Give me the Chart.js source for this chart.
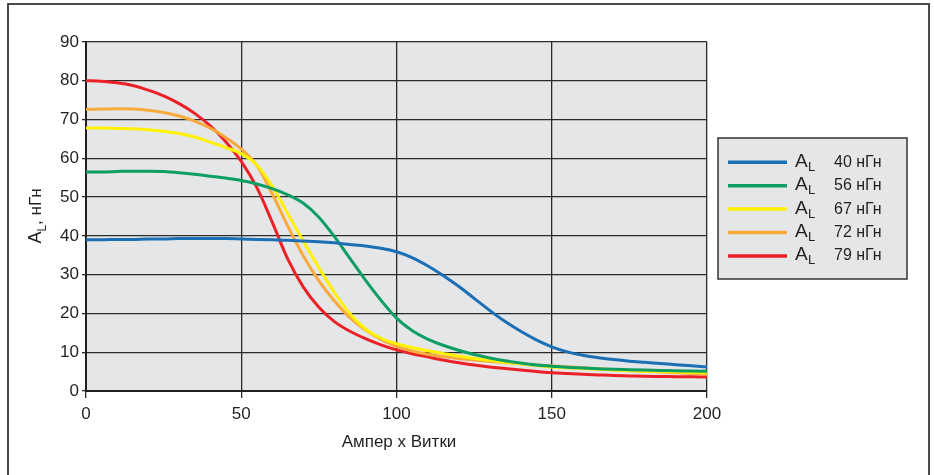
<!DOCTYPE html>
<html>
<head>
<meta charset="utf-8">
<script src="https://cdn.jsdelivr.net/npm/chart.js@4.4.1/dist/chart.umd.min.js"></script>
<style>
  html, body { margin: 0; padding: 0; background: #fff; }
  #wrap { width: 934px; height: 475px; }
</style>
</head>
<body>
<div id="wrap"><canvas id="chart" width="934" height="475"></canvas></div>
<script>
// === DATA ===
const amps = [0, 5, 10, 15, 20, 25, 30, 35, 40, 45, 50, 55, 60, 65, 70, 75, 80, 85, 90, 95, 100,
              105, 110, 115, 120, 125, 130, 135, 140, 145, 150, 155, 160, 165, 170, 175, 180, 185, 190, 195, 200];

const al40 = [39.0, 39.0, 39.1, 39.1, 39.2, 39.2, 39.3, 39.3, 39.3, 39.3, 39.2, 39.1, 39.0, 38.9, 38.7, 38.5, 38.2, 37.8, 37.4, 36.8, 35.9,
              34.4, 32.3, 29.8, 27.0, 23.9, 20.8, 17.9, 15.4, 13.2, 11.4, 10.1, 9.2, 8.6, 8.1, 7.7, 7.4, 7.1, 6.8, 6.5, 6.2];
const al56 = [56.5, 56.5, 56.6, 56.7, 56.7, 56.6, 56.3, 55.9, 55.4, 54.9, 54.3, 53.4, 52.2, 50.6, 48.4, 44.8, 39.8, 34.2, 28.6, 23.4, 18.8,
              15.6, 13.4, 11.8, 10.5, 9.4, 8.5, 7.8, 7.2, 6.7, 6.4, 6.1, 5.9, 5.75, 5.6, 5.5, 5.4, 5.3, 5.2, 5.15, 5.1];
const al67 = [67.8, 67.8, 67.7, 67.6, 67.4, 67.0, 66.4, 65.5, 64.2, 62.8, 61.2, 58.3, 52.8, 45.7, 38.6, 31.8, 25.4, 19.9, 16.0, 13.6, 12.2,
              11.2, 10.4, 9.7, 9.0, 8.4, 7.9, 7.4, 7.0, 6.6, 6.2, 6.0, 5.8, 5.6, 5.4, 5.25, 5.1, 5.0, 4.9, 4.8, 4.7];
const al72 = [72.6, 72.7, 72.8, 72.7, 72.4, 71.8, 70.9, 69.6, 67.8, 65.4, 62.4, 58.2, 50.8, 42.5, 34.8, 28.4, 23.2, 18.9, 15.7, 13.3, 11.5,
              10.3, 9.5, 8.9, 8.4, 8.0, 7.6, 7.3, 7.0, 6.7, 6.5, 6.25, 6.0, 5.75, 5.5, 5.3, 5.1, 4.9, 4.7, 4.5, 4.3];
const al79 = [80.0, 79.9, 79.5, 78.8, 77.6, 76.1, 74.1, 71.6, 68.4, 64.3, 59.2, 52.5, 43.5, 34.0, 26.8, 21.6, 17.9, 15.4, 13.5, 11.9, 10.6,
              9.6, 8.8, 8.0, 7.3, 6.7, 6.2, 5.8, 5.4, 5.0, 4.7, 4.5, 4.3, 4.15, 4.0, 3.9, 3.8, 3.75, 3.7, 3.65, 3.6];

const seriesLabels = ["40 нГн", "56 нГн", "67 нГн", "72 нГн", "79 нГн"];
const seriesValues = [al40, al56, al67, al72, al79];
const seriesColors = ["#1a6fb5", "#0d9e63", "#fff200", "#f8aa3c", "#ec2127"];

const xTicks = [0, 50, 100, 150, 200];
const yTicks = [0, 10, 20, 30, 40, 50, 60, 70, 80, 90];

const FONT = "'Liberation Sans', Arial, sans-serif";
const INK = "#231f20";
const PLOT_BG = "#e5e6e8";

// === DEKORASI: fon, legenda, judul sumbu, bingkai ===
const decor = {
  id: "decor",
  beforeDraw(chart) {
    const { ctx, chartArea: a } = chart;
    ctx.save();
    ctx.fillStyle = PLOT_BG;
    ctx.fillRect(a.left, a.top, a.right - a.left, a.bottom - a.top);
    ctx.restore();
  },
  afterDraw(chart) {
    const ctx = chart.ctx;
    ctx.save();

    // bingkai luar (tanpa sisi bawah)
    ctx.strokeStyle = "#4a4a4a";
    ctx.lineWidth = 2;
    ctx.beginPath();
    ctx.moveTo(8, 476);
    ctx.lineTo(8, 4);
    ctx.lineTo(929, 4);
    ctx.lineTo(929, 476);
    ctx.stroke();

    // legenda
    ctx.fillStyle = PLOT_BG;
    ctx.fillRect(718, 138, 189, 141);
    ctx.strokeStyle = "#333";
    ctx.lineWidth = 1.5;
    ctx.strokeRect(718, 138, 189, 141);

    ctx.textBaseline = "alphabetic";
    ctx.textAlign = "left";
    seriesLabels.forEach((lab, i) => {
      const y = 162.3 + i * 23.4;
      ctx.strokeStyle = seriesColors[i];
      ctx.lineWidth = 3.5;
      ctx.beginPath();
      ctx.moveTo(728, y);
      ctx.lineTo(787, y);
      ctx.stroke();

      ctx.fillStyle = INK;
      ctx.font = "19px " + FONT;
      ctx.fillText("A", 795, y + 4.5);
      ctx.font = "13px " + FONT;
      ctx.fillText("L", 808, y + 8.5);
      ctx.font = "16px " + FONT;
      ctx.fillText(lab, 834, y + 4.5);
    });

    // judul sumbu X
    ctx.fillStyle = INK;
    ctx.font = "17px " + FONT;
    ctx.textAlign = "center";
    ctx.fillText("Ампер х Витки", 399, 447);

    // judul sumbu Y (diputar, dengan subskrip L)
    ctx.translate(41, 216);
    ctx.rotate(-Math.PI / 2);
    ctx.textAlign = "left";
    ctx.font = "18px " + FONT;
    const wA = ctx.measureText("A").width;
    ctx.font = "12px " + FONT;
    const wL = ctx.measureText("L").width;
    ctx.font = "17px " + FONT;
    const rest = ", нГн";
    const wR = ctx.measureText(rest).width;
    let x = -(wA + wL + wR) / 2;
    ctx.font = "18px " + FONT;
    ctx.fillText("A", x, 0);
    x += wA;
    ctx.font = "12px " + FONT;
    ctx.fillText("L", x, 5);
    x += wL;
    ctx.font = "17px " + FONT;
    ctx.fillText(rest, x, 0);

    ctx.restore();
  }
};

const ctx = document.getElementById("chart").getContext("2d");

new Chart(ctx, {
  type: "line",
  data: {
    datasets: seriesValues.map((vals, i) => ({
      label: seriesLabels[i],
      data: amps.map((a, j) => ({ x: a, y: vals[j] })),
      borderColor: seriesColors[i],
      borderWidth: 3,
      pointRadius: 0,
      fill: false,
      cubicInterpolationMode: "monotone"
    }))
  },
  options: {
    responsive: false,
    animation: false,
    devicePixelRatio: 1,
    layout: { padding: { left: 0, right: 227, top: 42, bottom: 0 } },
    plugins: {
      legend: { display: false },
      tooltip: { enabled: false }
    },
    scales: {
      x: {
        type: "linear",
        min: 0,
        max: 200,
        afterFit: s => { s.height = 84; },
        afterBuildTicks: s => { s.ticks = xTicks.map(v => ({ value: v })); },
        ticks: { font: { size: 17, family: FONT }, color: INK, padding: 6, maxRotation: 0 },
        grid: { color: "#2b2b2b", lineWidth: 1.3, tickLength: 7 },
        border: { color: "#231f20", width: 2 }
      },
      y: {
        min: 0,
        max: 90,
        afterFit: s => { s.width = 86; },
        afterBuildTicks: s => { s.ticks = yTicks.map(v => ({ value: v })); },
        ticks: { font: { size: 17, family: FONT }, color: INK, padding: 3 },
        grid: { color: "#2b2b2b", lineWidth: 1.3, tickLength: 4 },
        border: { color: "#231f20", width: 2 }
      }
    }
  },
  plugins: [decor]
});
</script>
</body>
</html>
